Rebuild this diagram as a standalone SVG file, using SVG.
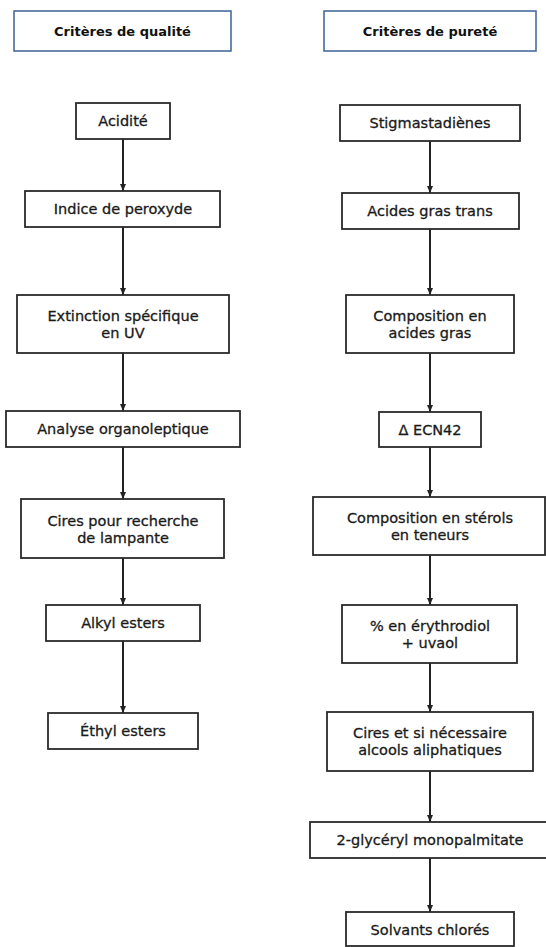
<svg xmlns="http://www.w3.org/2000/svg" width="546" height="947" viewBox="0 0 546 947">
<style>
.hdr{fill:#fff;stroke:#3b6396;stroke-width:1.5}
.box{fill:#fff;stroke:#2a2a2a;stroke-width:1.8}
.ht{font-family:"DejaVu Sans",sans-serif;font-weight:bold;font-size:13px;fill:#111;text-anchor:middle}
.t{font-family:"DejaVu Sans",sans-serif;font-size:14.5px;fill:#1a1a1a;stroke:#1a1a1a;stroke-width:0.3;text-anchor:middle}
.c{stroke:#222;stroke-width:2;fill:none;marker-end:url(#ah)}
</style>
<defs>
<marker id="ah" markerUnits="userSpaceOnUse" markerWidth="7" markerHeight="6" refX="7" refY="3" orient="auto" viewBox="0 0 7 6">
<path d="M0,0 L7,3 L0,6 Z" fill="#222"/>
</marker>
</defs>
<rect width="546" height="947" fill="#fff"/>
<g id="connectors">
<line class="c" x1="123" y1="139" x2="123" y2="191"/>
<line class="c" x1="123" y1="227" x2="123" y2="295"/>
<line class="c" x1="123" y1="353" x2="123" y2="411"/>
<line class="c" x1="123" y1="447" x2="123" y2="499"/>
<line class="c" x1="123" y1="558" x2="123" y2="605"/>
<line class="c" x1="123" y1="641" x2="123" y2="713"/>
<line class="c" x1="430" y1="141" x2="430" y2="193"/>
<line class="c" x1="430" y1="229" x2="430" y2="295"/>
<line class="c" x1="430" y1="353" x2="430" y2="412"/>
<line class="c" x1="430" y1="447" x2="430" y2="497"/>
<line class="c" x1="430" y1="555" x2="430" y2="605"/>
<line class="c" x1="430" y1="663" x2="430" y2="712"/>
<line class="c" x1="430" y1="771" x2="430" y2="822"/>
<line class="c" x1="430" y1="858" x2="430" y2="912"/>
</g>
<g id="hdr-qualite"><rect class="hdr" x="14" y="11" width="217" height="40"/><text class="ht" x="122.5" y="35.5">Critères de qualité</text></g>
<g id="hdr-purete"><rect class="hdr" x="324" y="11" width="212" height="40"/><text class="ht" x="430" y="35.5">Critères de pureté</text></g>
<g id="acidite"><rect class="box" x="76" y="103" width="94" height="36"/><text class="t" x="123" y="126">Acidité</text></g>
<g id="peroxyde"><rect class="box" x="25" y="191" width="195" height="36"/><text class="t" x="123" y="214">Indice de peroxyde</text></g>
<g id="extinction"><rect class="box" x="17" y="295" width="212" height="58"/><text class="t" x="123" y="321">Extinction spécifique</text><text class="t" x="123" y="338">en UV</text></g>
<g id="organoleptique"><rect class="box" x="6" y="411" width="234" height="36"/><text class="t" x="123" y="434">Analyse organoleptique</text></g>
<g id="cires-lampante"><rect class="box" x="21" y="499" width="203" height="59"/><text class="t" x="123" y="526">Cires pour recherche</text><text class="t" x="123" y="543">de lampante</text></g>
<g id="alkyl"><rect class="box" x="46" y="605" width="154" height="36"/><text class="t" x="123" y="628">Alkyl esters</text></g>
<g id="ethyl"><rect class="box" x="48" y="713" width="150" height="36"/><text class="t" x="123" y="736">Éthyl esters</text></g>
<g id="stigma"><rect class="box" x="340" y="105" width="180" height="36"/><text class="t" x="430" y="128">Stigmastadiènes</text></g>
<g id="trans"><rect class="box" x="342" y="193" width="177" height="36"/><text class="t" x="430" y="216">Acides gras trans</text></g>
<g id="comp-ag"><rect class="box" x="346" y="295" width="168" height="58"/><text class="t" x="430" y="321">Composition en</text><text class="t" x="430" y="338">acides gras</text></g>
<g id="ecn42"><rect class="box" x="379" y="412" width="102" height="35"/><text class="t" x="430" y="435">Δ ECN42</text></g>
<g id="sterols"><rect class="box" x="313" y="497" width="232" height="58"/><text class="t" x="430" y="523">Composition en stérols</text><text class="t" x="430" y="540">en teneurs</text></g>
<g id="erythrodiol"><rect class="box" x="342" y="605" width="175" height="58"/><text class="t" x="430" y="631">% en érythrodiol</text><text class="t" x="430" y="648">+ uvaol</text></g>
<g id="cires-alcools"><rect class="box" x="327" y="712" width="206" height="59"/><text class="t" x="430" y="738">Cires et si nécessaire</text><text class="t" x="430" y="755">alcools aliphatiques</text></g>
<g id="glyceryl"><rect class="box" x="310" y="822" width="240" height="36"/><text class="t" x="430" y="845">2-glycéryl monopalmitate</text></g>
<g id="solvants"><rect class="box" x="346" y="912" width="168" height="34"/><text class="t" x="430" y="935">Solvants chlorés</text></g>
</svg>
